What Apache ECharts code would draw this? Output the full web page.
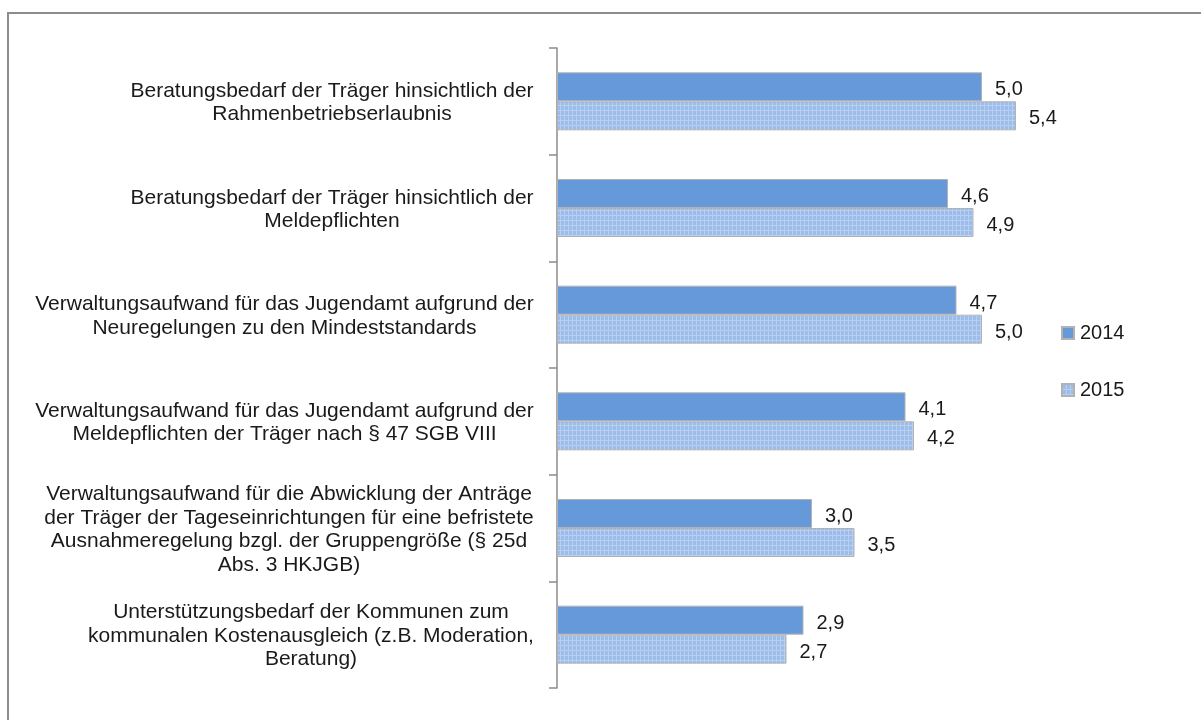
<!DOCTYPE html>
<html lang="de">
<head>
    <meta charset="utf-8">
    <script src="https://cdn.jsdelivr.net/npm/echarts@6/dist/echarts.min.js"></script>
    <title>Beratungsbedarf und Verwaltungsaufwand</title>
    <style>
        html, body { margin: 0; padding: 0; background: #fff; overflow: hidden; }
        #chart { width: 1201px; height: 720px; }
    </style>
</head>
<body>
<div id="chart"></div>
<script>
// Kategorien (von oben nach unten)
const categories = [
    'Beratungsbedarf der Träger hinsichtlich der\nRahmenbetriebserlaubnis',
    'Beratungsbedarf der Träger hinsichtlich der\nMeldepflichten',
    'Verwaltungsaufwand für das Jugendamt aufgrund der\nNeuregelungen zu den Mindeststandards',
    'Verwaltungsaufwand für das Jugendamt aufgrund der\nMeldepflichten der Träger nach § 47 SGB VIII',
    'Verwaltungsaufwand für die Abwicklung der Anträge\nder Träger der Tageseinrichtungen für eine befristete\nAusnahmeregelung bzgl. der Gruppengröße (§ 25d\nAbs. 3 HKJGB)',
    'Unterstützungsbedarf der Kommunen zum\nkommunalen Kostenausgleich (z.B. Moderation,\nBeratung)'
];
const years = ['2014', '2015'];
const values2014 = [5.0, 4.6, 4.7, 4.1, 3.0, 2.9];
const values2015 = [5.4, 4.9, 5.0, 4.2, 3.5, 2.7];

const FONT = '"Liberation Sans", Arial, sans-serif';
const FS = 20;
const FS_CAT = 21;

// Blockbreite je Beschriftung messen, damit die Zeilen zentriert, der Block aber rechtsbündig steht
const ctx = document.createElement('canvas').getContext('2d');
ctx.font = FS_CAT + 'px ' + FONT;
const rich = {};
categories.forEach(function (c, i) {
    let w = 0;
    c.split('\n').forEach(function (l) { w = Math.max(w, ctx.measureText(l).width); });
    rich['b' + i] = {
        width: Math.ceil(w) + 2,
        align: 'center',
        fontSize: FS_CAT,
        fontFamily: FONT,
        lineHeight: 23.5,
        color: '#1a1a1a'
    };
});

// Gittermuster für 2015
function gridPattern() {
    const cv = document.createElement('canvas');
    cv.width = 4;
    cv.height = 5;
    const g = cv.getContext('2d');
    g.fillStyle = '#9cbcea';
    g.fillRect(0, 0, 4, 5);
    g.fillStyle = '#b9cff1';
    g.fillRect(0, 0, 1, 5);
    g.fillRect(0, 0, 4, 1);
    return cv;
}

function fmt(p) {
    return p.value.toFixed(1).replace('.', ',');
}

const chart = echarts.init(document.getElementById('chart'));
const option = {
    animation: false,
    backgroundColor: '#fff',
    textStyle: { fontFamily: FONT },
    graphic: [{
        type: 'rect',
        z: -1,
        shape: { x: 8, y: 13, width: 1300, height: 800 },
        style: { fill: 'none', stroke: '#8c8c8c', lineWidth: 2 }
    }],
    legend: {
        orient: 'vertical',
        left: 1056,
        top: 318,
        itemWidth: 12,
        itemHeight: 12,
        itemGap: 37,
        icon: 'rect',
        data: years,
        textStyle: { fontSize: FS, color: '#1a1a1a', fontFamily: FONT, padding: [0, 0, 0, 1] }
    },
    grid: { left: 557, right: 134, top: 48, bottom: 32 },
    xAxis: {
        type: 'value',
        min: 0,
        max: 6,
        show: false
    },
    yAxis: {
        type: 'category',
        inverse: true,
        data: categories,
        axisLine: { show: true, lineStyle: { color: '#8c8c8c', width: 1.5 } },
        axisTick: { show: true, length: 8, lineStyle: { color: '#8c8c8c', width: 1.5 } },
        axisLabel: {
            margin: 22,
            align: 'right',
            padding: [3, 0, 0, 0],
            rich: rich,
            formatter: function (v, i) {
                return v.split('\n').map(function (l) { return '{b' + i + '|' + l + '}'; }).join('\n');
            }
        }
    },
    series: [
        {
            name: '2014',
            type: 'bar',
            data: values2014,
            barWidth: 29,
            barGap: '0%',
            itemStyle: { color: '#6699d9', borderColor: '#b2b2b2', borderWidth: 1 },
            label: {
                show: true, position: 'right', distance: 13, offset: [0, 3],
                formatter: fmt, fontSize: FS, color: '#1a1a1a', fontFamily: FONT
            }
        },
        {
            name: '2015',
            type: 'bar',
            data: values2015,
            barWidth: 29,
            itemStyle: {
                color: { image: gridPattern(), repeat: 'repeat' },
                borderColor: '#b2b2b2',
                borderWidth: 1
            },
            label: {
                show: true, position: 'right', distance: 13, offset: [0, 3],
                formatter: fmt, fontSize: FS, color: '#1a1a1a', fontFamily: FONT
            }
        }
    ]
};
chart.setOption(option);
</script>
</body>
</html>
